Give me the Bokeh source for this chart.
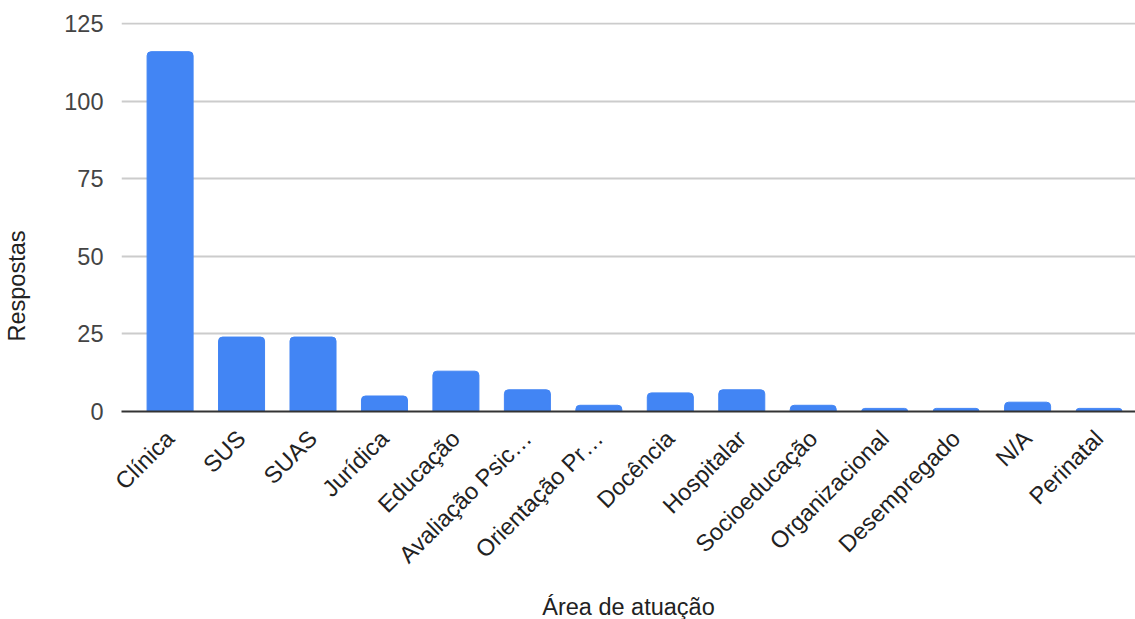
import math
from bokeh.plotting import figure
from bokeh.models import Range1d, FixedTicker, Title, ColumnDataSource
from bokeh.embed import file_html
from bokeh.resources import INLINE

categories = ["Clínica", "SUS", "SUAS", "Jurídica", "Educação", "Avaliação Psic…",
              "Orientação Pr…", "Docência", "Hospitalar", "Socioeducação",
              "Organizacional", "Desempregado", "N/A", "Perinatal"]
respostas = [116, 24, 24, 5, 13, 7, 2, 6, 7, 2, 1, 1, 3, 1]
y_ticks = [0, 25, 50, 75, 100, 125]

FONT = "Liberation Sans"
FS = "23.5px"

xpos = [i + 0.5 for i in range(len(categories))]
src = ColumnDataSource(dict(x=xpos, top=respostas))

p = figure(frame_width=1014, frame_height=389, min_border_left=121, min_border_right=0,
           min_border_top=22, min_border_bottom=208,
           x_range=Range1d(-0.18, len(categories) + 0.01), y_range=Range1d(0, 125.4),
           output_backend="svg", toolbar_location=None)

p.vbar(x="x", top="top", width=0.644, bottom=0, source=src, color="#4285F4",
       border_radius=(4, 4, 0, 0))

p.outline_line_color = None
p.background_fill_color = "white"
p.border_fill_color = "white"

# x axis
xa = p.xaxis[0]
xa.ticker = FixedTicker(ticks=xpos)
xa.major_label_overrides = {x: c for x, c in zip(xpos, categories)}
xa.major_label_orientation = math.pi / 4
xa.major_label_text_font = FONT
xa.major_label_text_font_size = FS
xa.major_label_text_color = "#222222"
xa.major_label_standoff = 17
xa.major_tick_line_color = None
xa.minor_tick_line_color = None
xa.axis_line_color = "#333333"
xa.axis_line_width = 2
xa.axis_label = "Área de atuação"
xa.axis_label_text_font = FONT
xa.axis_label_text_font_size = FS
xa.axis_label_text_font_style = "normal"
xa.axis_label_text_color = "#222222"
xa.axis_label_standoff = 14

# y axis
ya = p.yaxis[0]
ya.ticker = FixedTicker(ticks=y_ticks)
ya.major_label_text_font = FONT
ya.major_label_text_font_size = FS
ya.major_label_text_color = "#444444"
ya.major_label_standoff = 12
ya.major_tick_line_color = None
ya.minor_tick_line_color = None
ya.axis_line_color = None

p.xgrid.grid_line_color = None
p.ygrid.grid_line_color = "#cccccc"
p.ygrid.grid_line_width = 2

spacer = Title(text=" ", text_font_size="26px", standoff=0, text_color="white")
p.add_layout(spacer, "left")

ytitle = Title(text="Respostas", align="left", offset=70, text_font=FONT,
               text_font_size=FS, text_font_style="normal", text_color="#222222",
               standoff=0)
p.add_layout(ytitle, "left")

open("out.html", "w").write(file_html(p, INLINE))
